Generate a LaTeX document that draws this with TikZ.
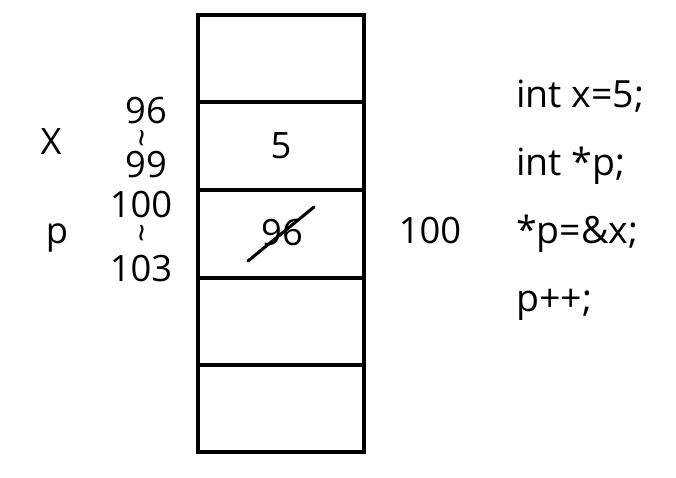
\documentclass[tikz,border=0pt]{standalone}
\usepackage{fontspec}
\setmainfont{Open Sans}
\usetikzlibrary{positioning, calc}
\tikzset{
    % memory column
    cell/.style={draw, line width=3.4pt, minimum width=4.98cm, minimum height=2.62cm,
                inner sep=0pt, font=\fontsize{31}{34}\selectfont},
    addr/.style={font=\fontsize{31}{34}\selectfont, inner sep=0pt},
    wavy/.style={font=\fontsize{28}{28}\selectfont, inner sep=0pt, rotate=90},
    % code listing
    code/.style={font=\fontsize{32}{36}\selectfont, anchor=base west, inner sep=0pt},
    strike/.style={line width=2.6pt, line cap=round},
}
\begin{document}
\begin{tikzpicture}[x=0.03cm, y=-0.03cm]
\useasboundingbox (0,0) rectangle (676,477);

\node[cell] (c1) at (281,58.5)  {};
\node[cell] (c2) at (281,146)   {5};
\node[cell] (c3) at (281,234)   {};
\node[cell] (c4) at (281,321.5) {};
\node[cell] (c5) at (281,408.5) {};

\node[addr] (v96) at (282,233) {96};
\draw[strike] ($(v96.center)+(-34,28)$) -- ($(v96.center)+(32,-26)$);

\node[addr] (nx) at (51,142) {X};
\node[addr, anchor=base] (np) at (57,243) {p};

\node[addr] (a96)  at (146,111) {96};
\node[wavy] (w1)   at (147,138) {\textasciitilde};
\node[addr] (a99)  at (146,165) {99};
\node[addr] (a100) at (141,205) {100};
\node[wavy] (w2)   at (147,233) {\textasciitilde};
\node[addr] (a103) at (141,269) {103};

\node[addr] (pv) at (430,231) {100};

\node[code] (l1) at (516,107) {int x=5;};
\node[code] (l2) at (516,175) {int *p;};
\node[code] (l3) at (516,243) {*p=\&x;};
\node[code] (l4) at (516,311) {p++;};
\end{tikzpicture}
\end{document}
